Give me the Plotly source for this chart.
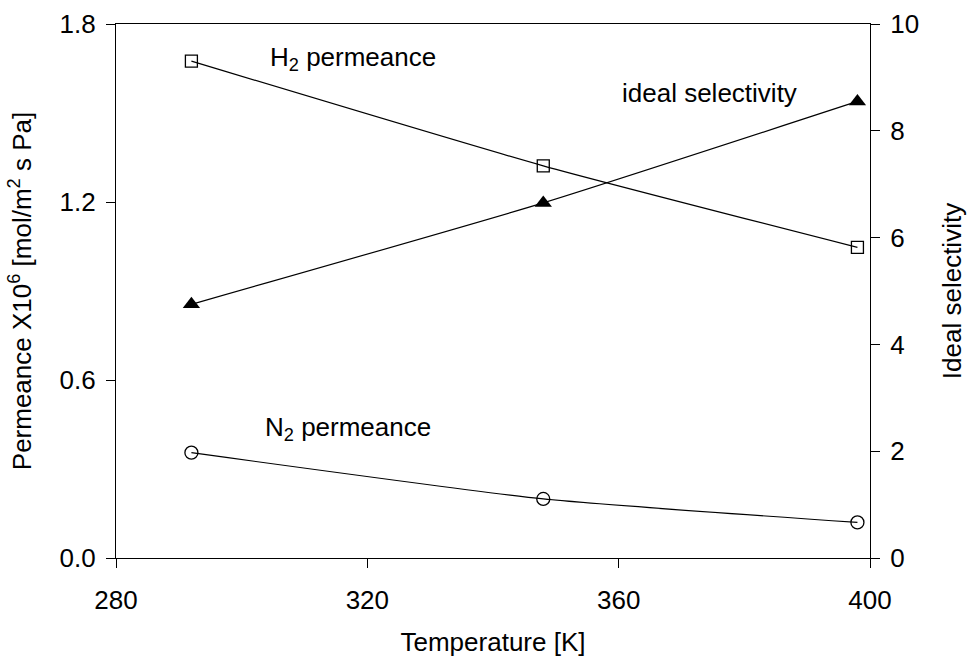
import plotly.graph_objects as go

# Measured data
temperature = [292, 348, 398]            # K
h2_permeance = [1.675, 1.322, 1.047]     # x10^-6 mol/m2 s Pa
n2_permeance = [0.355, 0.199, 0.120]     # x10^-6 mol/m2 s Pa
ideal_selectivity = [4.75, 6.65, 8.55]   # H2/N2

x_ticks = [280, 320, 360, 400]
y_ticks = [0.0, 0.6, 1.2, 1.8]
y2_ticks = [0, 2, 4, 6, 8, 10]

FONT = "Liberation Sans, Arial, sans-serif"
FS = 26
line_style = dict(color="black", width=1.2, shape="spline", smoothing=0.5)

fig = go.Figure()

fig.add_trace(go.Scatter(
    x=temperature, y=h2_permeance, mode="lines+markers", name="H2 permeance",
    line=line_style,
    marker=dict(symbol="square-open", size=12, color="black", line=dict(width=1.3)),
))
fig.add_trace(go.Scatter(
    x=temperature, y=n2_permeance, mode="lines+markers", name="N2 permeance",
    line=line_style,
    marker=dict(symbol="circle-open", size=13, color="black", line=dict(width=1.3)),
))
fig.add_trace(go.Scatter(
    x=temperature, y=ideal_selectivity, mode="lines+markers", name="ideal selectivity",
    yaxis="y2", line=line_style,
    marker=dict(symbol="triangle-up", size=15, color="black"),
))

axis_common = dict(
    showgrid=False, zeroline=False, showline=True, linecolor="black", linewidth=1.2,
    ticks="outside", ticklen=9, tickwidth=1, tickcolor="black", automargin=False,
    tickfont=dict(family=FONT, size=FS, color="black"),
)

fig.update_layout(
    width=967, height=657,
    margin=dict(l=116, r=97, t=24, b=99),
    paper_bgcolor="white", plot_bgcolor="white",
    showlegend=False,
    font=dict(family=FONT, color="black"),
    xaxis=dict(
        range=[280, 400], tickvals=x_ticks, mirror=True, ticklabelstandoff=10,
        title=dict(text="Temperature [K]", font=dict(family=FONT, size=FS), standoff=18),
        **axis_common,
    ),
    yaxis=dict(
        range=[0, 1.8], tickvals=y_ticks, tickformat=".1f", ticklabelstandoff=5,
        title=dict(text="Permeance X10<sup>6</sup> [mol/m<sup>2</sup> s Pa]",
                   font=dict(family=FONT, size=FS), standoff=20),
        **axis_common,
    ),
    yaxis2=dict(
        range=[0, 10], tickvals=y2_ticks, overlaying="y", side="right", ticklabelstandoff=5,
        title=dict(text="Ideal selectivity", font=dict(family=FONT, size=FS), standoff=36),
        **axis_common,
    ),
    annotations=[
        dict(x=317.7, y=1.685, xref="x", yref="y", showarrow=False,
             text="H<sub>2</sub> permeance", font=dict(family=FONT, size=FS)),
        dict(x=374.4, y=1.567, xref="x", yref="y", showarrow=False,
             text="ideal selectivity", font=dict(family=FONT, size=FS)),
        dict(x=316.9, y=0.438, xref="x", yref="y", showarrow=False,
             text="N<sub>2</sub> permeance", font=dict(family=FONT, size=FS)),
    ],
)

fig.write_html("out.html")
